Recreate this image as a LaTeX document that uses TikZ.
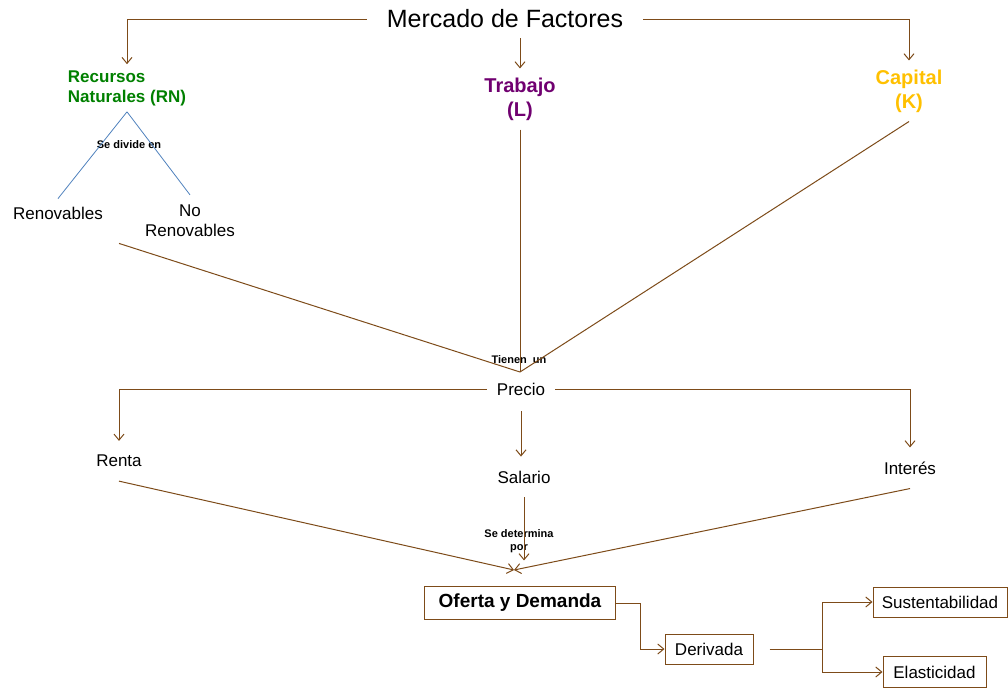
\documentclass[tikz,border=0pt]{standalone}
\usepackage{fontspec}
\setmainfont{Liberation Sans}
\usetikzlibrary{arrows.meta}
\definecolor{cafe}{RGB}{125,75,25}
\definecolor{azul}{RGB}{79,129,189}
\definecolor{verdern}{RGB}{0,128,0}
\definecolor{morado}{RGB}{112,0,112}
\definecolor{dorado}{RGB}{255,192,0}

\begin{document}
\begin{tikzpicture}[x=1pt, y=-1pt, >={Straight Barb[length=6pt,width=10pt]},
	linea/.style={draw=cafe, line width=1pt},
	flecha/.style={linea, ->},
	texto/.style={font=\fontsize{17}{20}\selectfont, align=center},
	factor/.style={font=\fontsize{20}{24}\selectfont\bfseries, align=center, inner sep=9pt},
	enlace/.style={font=\fontsize{11}{13}\selectfont\bfseries, align=center, inner sep=0pt},
	caja/.style={draw=cafe, line width=1pt, font=\fontsize{17}{20}\selectfont, inner sep=0pt}]
	\useasboundingbox (0,0) rectangle (1008,688);
	\node[font=\fontsize{25}{30}\selectfont, inner xsep=20pt, inner ysep=10pt] (mercado) at (505,19) {Mercado de Factores};
	\node[factor, font=\fontsize{17}{20}\selectfont\bfseries, text=verdern, align=left, inner sep=6pt] (rn) at (127,88) {Recursos\\Naturales (RN)};
	\node[factor, text=morado] (trabajo) at (520,99) {Trabajo\\(L)};
	\node[factor, text=dorado] (capital) at (909,91) {Capital\\(K)};
	\node[texto, inner sep=8pt] (renov) at (58,213) {Renovables};
	\node[texto, inner sep=10pt] (noren) at (190,221) {No\\Renovables};
	\node[enlace] (divide) at (129,145) {Se divide en};
	\node[texto, inner xsep=10pt, inner ysep=16pt] (precio) at (521,389) {Precio};
	\node[enlace] (tienen) at (519,360) {Tienen\ \ un};
	\coordinate (junta) at (520,372);
	\node[texto, inner sep=14pt] (renta) at (119,461) {Renta};
	\node[texto, inner sep=14pt] (salario) at (524,477) {Salario};
	\node[texto, inner sep=14pt] (interes) at (910,468) {Interés};
	\node[enlace] (determina) at (519,541) {Se determina\\por};
	\coordinate (juntaod) at (514,570);
	\node[caja, font=\fontsize{19}{22}\selectfont\bfseries, minimum width=191pt, minimum height=33pt] (oferta) at (520,603) {Oferta y Demanda};
	\node[caja, minimum width=88pt, minimum height=30pt] (derivada) at (709,649) {Derivada};
	\node[caja, minimum width=134pt, minimum height=30pt] (sust) at (940,602) {Sustentabilidad};
	\node[caja, minimum width=103pt, minimum height=31pt] (elast) at (934.5,672) {Elasticidad};
	\coordinate (rama) at ([xshift=69pt]derivada.east);
	\draw[flecha] (mercado.west) -| (rn.north);
	\draw[flecha] (mercado.east) -| (capital.north);
	\draw[flecha] (mercado.south -| trabajo.north) -- (trabajo.north);
	\draw[azul, line width=0.8pt] (rn.south) -- (renov.north);
	\draw[azul, line width=0.8pt] (rn.south) -- (noren.north);
	\draw[linea] ([shift={(8pt,-16pt)}]renov.south east) -- (junta);
	\draw[linea] (trabajo.south) -- (junta);
	\draw[linea] (capital.south) -- (junta);
	\draw[flecha] (precio.west) -| (renta.north);
	\draw[flecha] (precio.east) -| (interes.north);
	\draw[flecha] (precio.south) -- (precio.south |- salario.north);
	\draw[flecha] (renta.south) -- (juntaod);
	\draw[flecha] (interes.south) -- (juntaod);
	\draw[flecha] (salario.south) -- ++(0,63);
	\draw[flecha] (oferta.east) -- ++(24,0) |- (derivada.west);
	\draw[linea] ([xshift=16pt]derivada.east) -- (rama);
	\draw[flecha] (rama) |- (sust.west);
	\draw[flecha] (rama) |- (elast.west);
\end{tikzpicture}
\end{document}
